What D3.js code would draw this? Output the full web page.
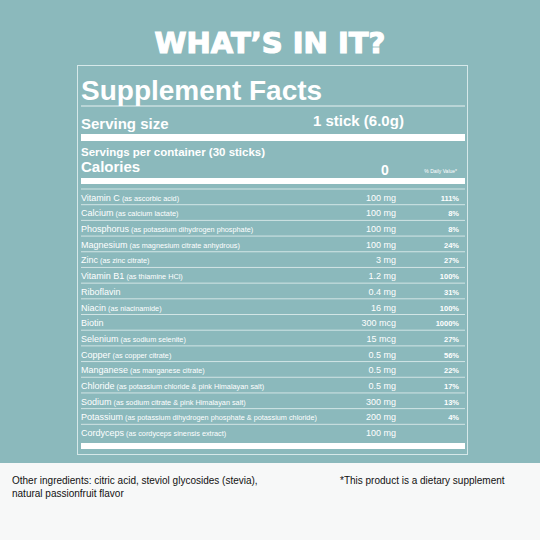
<!DOCTYPE html><html><head><meta charset="utf-8">
<script src="https://cdn.jsdelivr.net/npm/d3@7"></script>
<style>body{margin:0}svg{display:block}</style></head><body>
<script>
const nutrients=["Vitamin C","Calcium","Phosphorus","Magnesium","Zinc","Vitamin B1","Riboflavin","Niacin","Biotin","Selenium","Copper","Manganese","Chloride","Sodium","Potassium","Cordyceps"];
const sources=["(as ascorbic acid)","(as calcium lactate)","(as potassium dihydrogen phosphate)","(as magnesium citrate anhydrous)","(as zinc citrate)","(as thiamine HCl)","","(as niacinamide)","","(as sodium selenite)","(as copper citrate)","(as manganese citrate)","(as potassium chloride & pink Himalayan salt)","(as sodium citrate & pink Himalayan salt)","(as potassium dihydrogen phosphate & potassium chloride)","(as cordyceps sinensis extract)"];
const amounts=["100 mg","100 mg","100 mg","100 mg","3 mg","1.2 mg","0.4 mg","16 mg","300 mcg","15 mcg","0.5 mg","0.5 mg","0.5 mg","300 mg","200 mg","100 mg"];
const dailyValues=["111%","8%","8%","24%","27%","100%","31%","100%","1000%","27%","56%","22%","17%","13%","4%",""];

const W=540,H=540,bg="#8bb9bc",F="Liberation Sans, Arial, sans-serif";
const svg=d3.select("body").append("svg").attr("width",W).attr("height",H);
svg.append("rect").attr("width",W).attr("height",H).attr("fill",bg);
svg.append("rect").attr("y",463).attr("width",W).attr("height",77).attr("fill","#f7f8f8");
svg.append("text").attr("x",270).attr("y",53).attr("text-anchor","middle").attr("fill","#fff")
 .attr("font-family","DejaVu Sans, sans-serif").attr("font-weight","900").attr("font-size",29).attr("stroke","#fff").attr("stroke-width",1.2).text("WHAT’S IN IT?");
svg.append("rect").attr("x",77.5).attr("y",65.5).attr("width",390).attr("height",389).attr("fill","none").attr("stroke","#d6e8e9").attr("stroke-width",1);
const L=81,R=465;
const t=(x,y,s,txt,o={})=>svg.append("text").attr("x",x).attr("y",y).attr("fill","#fff").attr("font-family",F)
 .attr("font-size",s).attr("font-weight",o.w||"normal").attr("text-anchor",o.a||"start").text(txt);
t(L,100,28,"Supplement Facts",{w:"bold"});
svg.append("line").attr("x1",L).attr("x2",R).attr("y1",106).attr("y2",106).attr("stroke","#fff").attr("stroke-width",0.8);
t(L,129,15,"Serving size",{w:"bold"});
t(313,126,15,"1 stick (6.0g)",{w:"bold"});
svg.append("rect").attr("x",L).attr("y",134).attr("width",R-L).attr("height",7).attr("fill","#fff");
t(L,156,11.5,"Servings per container (30 sticks)",{w:"bold"});
t(L,172,15,"Calories",{w:"bold"});
t(385,175,14,"0",{w:"bold",a:"middle"});
t(457,173,5,"% Daily Value*",{a:"end"});
svg.append("rect").attr("x",L).attr("y",178).attr("width",R-L).attr("height",6).attr("fill","#fff");

const y=d3.scaleBand().domain(nutrients).range([189,440]).padding(0);
const rows=svg.selectAll("g.r").data(nutrients).join("g").attr("transform",d=>`translate(0,${y(d)})`);
svg.append("line").attr("x1",L).attr("x2",R).attr("y1",189).attr("y2",189).attr("stroke","#e4f0f0").attr("stroke-width",0.8);
rows.filter((d,i)=>i<nutrients.length-1).append("line").attr("x1",L).attr("x2",R).attr("y1",y.bandwidth()).attr("y2",y.bandwidth()).attr("stroke","#e4f0f0").attr("stroke-width",0.8);
const nt=rows.append("text").attr("x",L).attr("y",y.bandwidth()-4).attr("fill","#fff").attr("font-family",F).attr("font-size",9);
nt.append("tspan").text(d=>d);
nt.append("tspan").attr("font-size",7.3).text((d,i)=>sources[i]?" "+sources[i]:"");
rows.append("text").attr("x",396).attr("y",y.bandwidth()-4).attr("text-anchor","end").attr("fill","#fff").attr("font-family",F).attr("font-size",9).text((d,i)=>amounts[i]);
rows.append("text").attr("x",459).attr("y",y.bandwidth()-4).attr("text-anchor","end").attr("fill","#fff").attr("font-family",F).attr("font-size",7.5).attr("font-weight","bold").text((d,i)=>dailyValues[i]);
svg.append("rect").attr("x",L).attr("y",443).attr("width",R-L).attr("height",6).attr("fill","#fff");

const ft=(x,yy,txt)=>svg.append("text").attr("x",x).attr("y",yy).attr("fill","#111").attr("font-family",F).attr("font-size",10).text(txt);
ft(12,484,"Other ingredients: citric acid, steviol glycosides (stevia),");
ft(12,497,"natural passionfruit flavor");
ft(340,484,"*This product is a dietary supplement");
</script></body></html>
